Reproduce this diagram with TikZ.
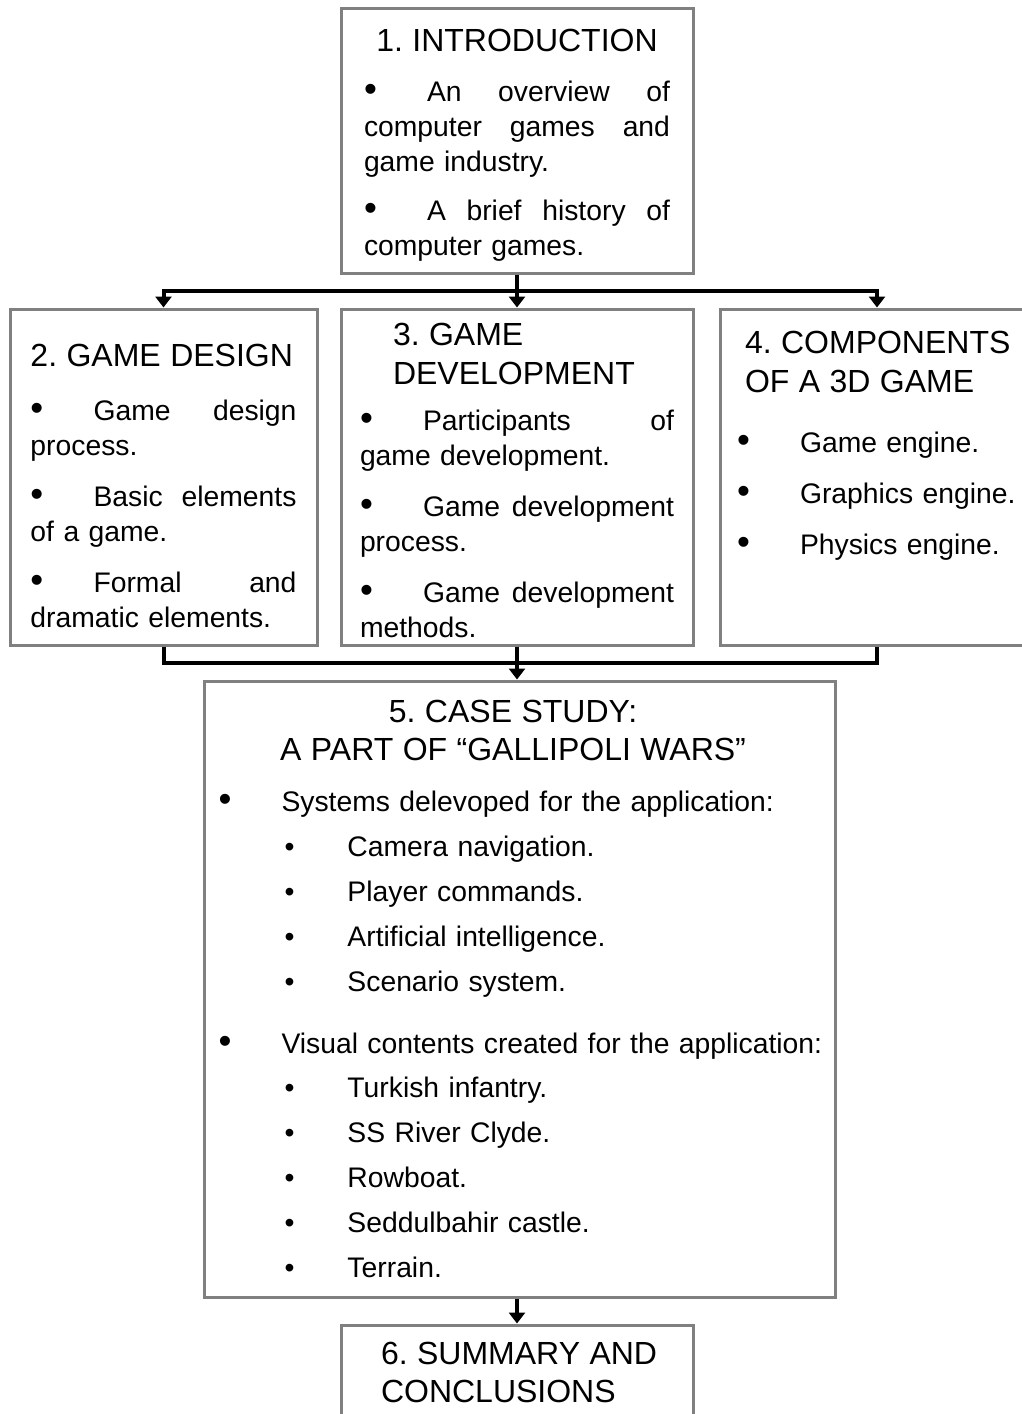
\documentclass[tikz,border=0pt]{standalone}
\usepackage{graphicx}
\usepackage{fontspec}
\setmainfont{Liberation Sans}
\usetikzlibrary{arrows.meta,calc,positioning}
\definecolor{framegray}{RGB}{128,128,128}
\frenchspacing
\newcommand{\hd}{\fontsize{32}{38}\selectfont}
\newcommand{\jl}[1]{\leavevmode\hbox to \hsize{\spaceskip=0.278em plus 1fil\relax #1}}
\newcommand{\bul}{\makebox[63pt][l]{\scalebox{1.3}{\textbullet}}}
\newcommand{\subbul}{\hspace*{66pt}\makebox[63pt][l]{\textbullet}}
\begin{document}
\begin{tikzpicture}[x=1pt,y=-1pt,font=\fontsize{28.3}{35}\selectfont,
    box/.style={draw=framegray,line width=3pt,inner xsep=0pt,inner ysep=0pt,align=left},
    link/.style={line width=4pt},
    tip/.style={link,-{Triangle[width=16pt,length=11pt]}}]
  \path[use as bounding box,fill=white] (0,0) rectangle (1021,1414);

  % sections
  \node[box,minimum width=352pt,minimum height=265pt,text width=306pt] (intro) at (517,140.5) {%
    \makebox[\hsize]{\rule{0pt}{31pt}\hd 1. INTRODUCTION}\\[15pt]
    \jl{\bul An overview of}\\
    \jl{computer games and}\\
    game industry.\\[14pt]
    \jl{\bul A brief history of}\\
    computer games.};
  \node[box,minimum width=307pt,minimum height=336pt,text width=266pt] (design) at (163.5,477) {%
    \rule{0pt}{41pt}{\hd 2. GAME DESIGN}\\[19pt]
    \jl{\bul Game design}\\
    process.\\[16pt]
    \jl{\bul Basic elements}\\
    of a game.\\[16pt]
    \jl{\bul Formal and}\\
    dramatic elements.};
  \node[box,minimum width=352pt,minimum height=336pt,text width=314pt] (dev) at (517,477) {%
    \hspace*{33pt}\rule{0pt}{29pt}{\hd 3. GAME}\\[4pt]
    \hspace*{33pt}{\hd DEVELOPMENT}\\[11pt]
    \jl{\bul Participants of}\\
    game development.\\[16pt]
    \jl{\bul Game development}\\
    process.\\[16pt]
    \jl{\bul Game development}\\
    methods.};
  \node[box,minimum width=314pt,minimum height=336pt,text width=280pt] (comp) at (877,477) {%
    \hspace*{8pt}{\hd 4. COMPONENTS}\\[4pt]
    \hspace*{8pt}{\hd OF A 3D GAME}\\[25pt]
    \mbox{\bul Game engine.}\\[16pt]
    \mbox{\bul Graphics engine.}\\[16pt]
    \mbox{\bul Physics engine.}\\[34pt]
    \mbox{}};
  \node[box,minimum width=631pt,minimum height=616pt,text width=602pt] (case) at (519.5,989) {%
    \makebox[\hsize]{\hd 5. CASE STUDY:\hspace{13pt}}\\[3pt]
    \makebox[\hsize]{\hd A PART OF “GALLIPOLI WARS”\hspace{13pt}}\\[16pt]
    \mbox{\bul Systems delevoped for the application:}\\[10pt]
    \subbul Camera navigation.\\[10pt]
    \subbul Player commands.\\[10pt]
    \subbul Artificial intelligence.\\[10pt]
    \subbul Scenario system.\\[27pt]
    \mbox{\bul Visual contents created for the application:}\\[9pt]
    \subbul Turkish infantry.\\[10pt]
    \subbul SS River Clyde.\\[10pt]
    \subbul Rowboat.\\[10pt]
    \subbul Seddulbahir castle.\\[10pt]
    \subbul Terrain.};
  \node[box,minimum width=352pt,minimum height=95pt,text width=312pt] (summary) at (517,1372.5) {%
    \hspace*{20pt}{\hd 6. SUMMARY AND}\\[3pt]
    \hspace*{20pt}{\hd CONCLUSIONS}};

  % connectors
  \coordinate (split) at ($(intro.south)!0.5!(dev.north)$);
  \coordinate (join) at ($(dev.south)!0.5!(dev.south |- case.north)$);
  \draw[tip] (intro.south) -- (dev.north);
  \draw[tip] (split) -| (design.north);
  \draw[tip] (split) -| (comp.north);
  \draw[link] (design.south) |- (join) -| (comp.south);
  \draw[tip] (dev.south) -- (dev.south |- case.north);
  \draw[tip] (summary.north |- case.south) -- (summary.north);
\end{tikzpicture}
\end{document}
